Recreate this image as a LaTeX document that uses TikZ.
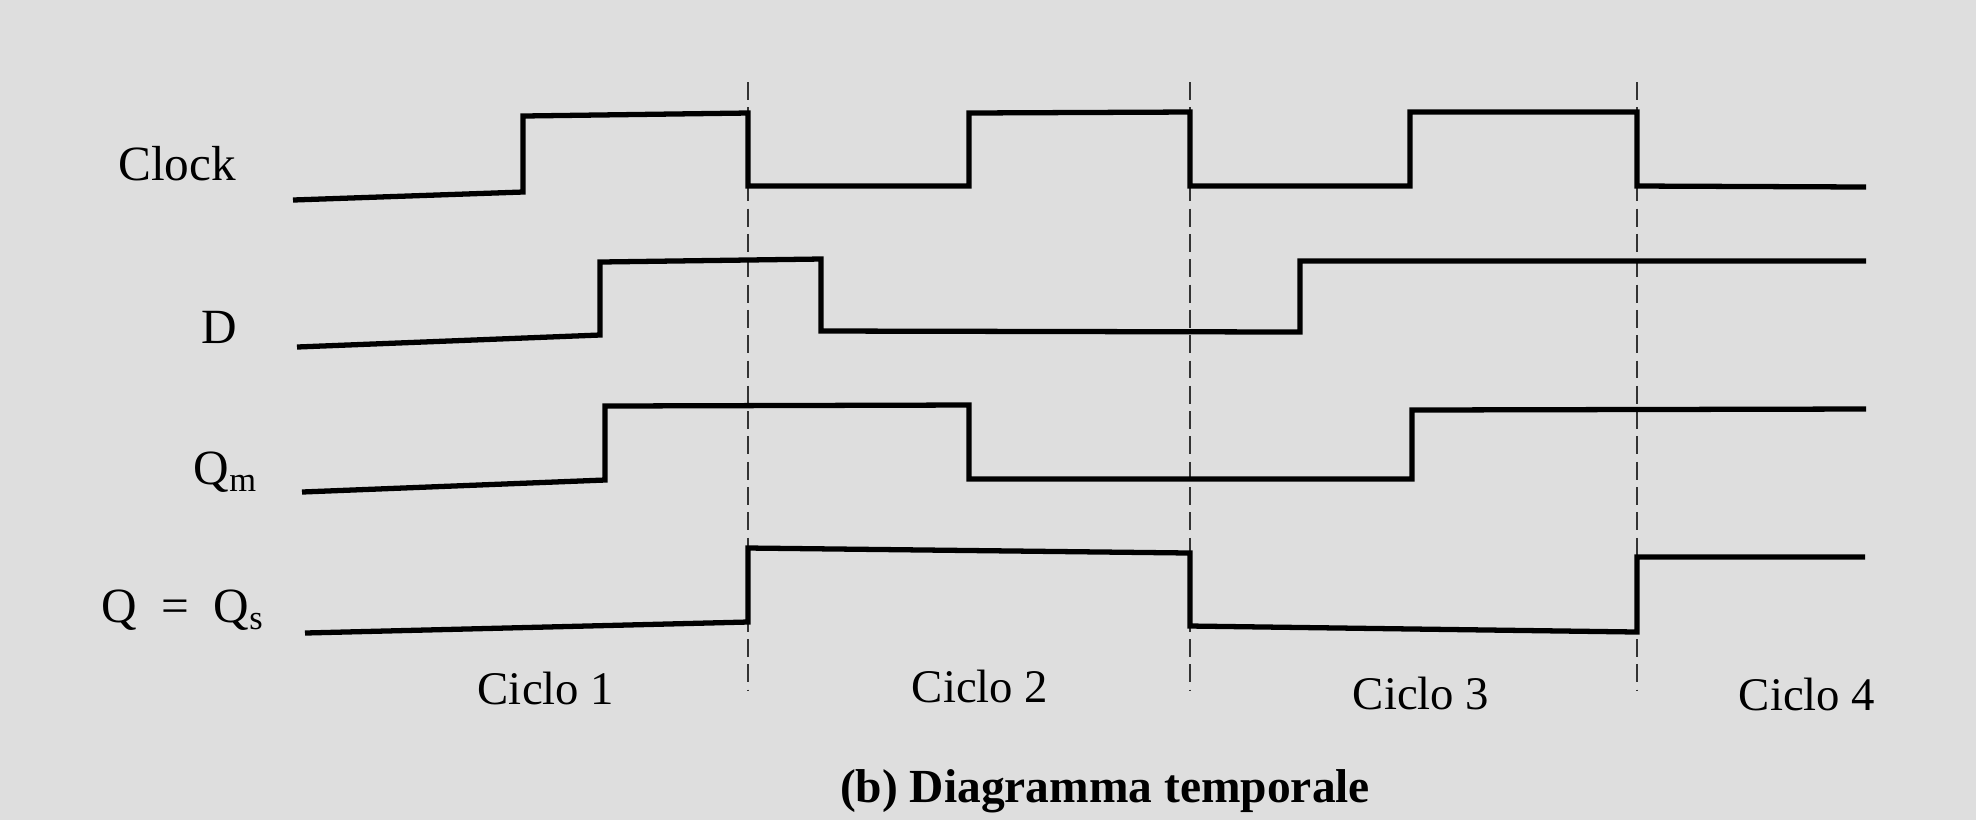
\documentclass[tikz,border=0pt]{standalone}
\usepackage{fontspec}
\setmainfont{Liberation Serif}

\begin{document}
\begin{tikzpicture}[x=0.01cm,y=-0.01cm,
    sig/.style={line width=1.5pt},
    cut/.style={line width=0.8pt,black!80,dash pattern=on 5.1pt off 2.1pt},
    every node/.style={inner sep=0pt,font=\fontsize{14}{16}\selectfont}]
  \fill[black!13] (0,0) rectangle (1976,820);
  \useasboundingbox (0,0) rectangle (1976,820);
  % cycle boundaries
  \foreach \x/\n in {748/a,1190/b,1637/c} {
    \coordinate (top\n) at (\x,82);
    \coordinate (bot\n) at (\x,690);
    \draw[cut] (top\n)--(bot\n);
  }
  % signal names
  \node (clk) at (177,164) {Clock};
  \node (d) at (219,327) {D};
  \node (qm) at (226,472) {Q\textsubscript{m}};
  \node (qs) at (183,610) {Q\enspace=\enspace Q\textsubscript{s}};
  % waveforms
  \draw[sig] (293,200)--(523,192)--(523,116)--(748,113)--(748,186)--(969,186)--(969,113)--(1190,112)
    --(1190,186)--(1410,186)--(1410,112)--(1637,112)--(1637,186)--(1866,187);
  \draw[sig] (297,347)--(600,335)--(600,262)--(821,259)--(821,331)--(1300,332)--(1300,261)--(1866,261);
  \draw[sig] (302,492)--(605,480)--(605,406)--(969,405)--(969,479)--(1412,479)--(1412,410)--(1866,409);
  \draw[sig] (305,633)--(748,622)--(748,548)--(1190,553)--(1190,626)--(1637,632)--(1637,557)--(1865,557);
  % cycle names
  \node[font=\fontsize{13.3}{16}\selectfont] (c1) at (546,688) {Ciclo 1};
  \node[font=\fontsize{13.3}{16}\selectfont] (c2) at (980,686) {Ciclo 2};
  \node[font=\fontsize{13.3}{16}\selectfont] (c3) at (1421,693) {Ciclo 3};
  \node[font=\fontsize{13.3}{16}\selectfont] (c4) at (1807,694) {Ciclo 4};
  \node[font=\fontsize{13.5}{16}\selectfont\bfseries] (cap) at (1105,791) {(b) Diagramma temporale};
\end{tikzpicture}
\end{document}
